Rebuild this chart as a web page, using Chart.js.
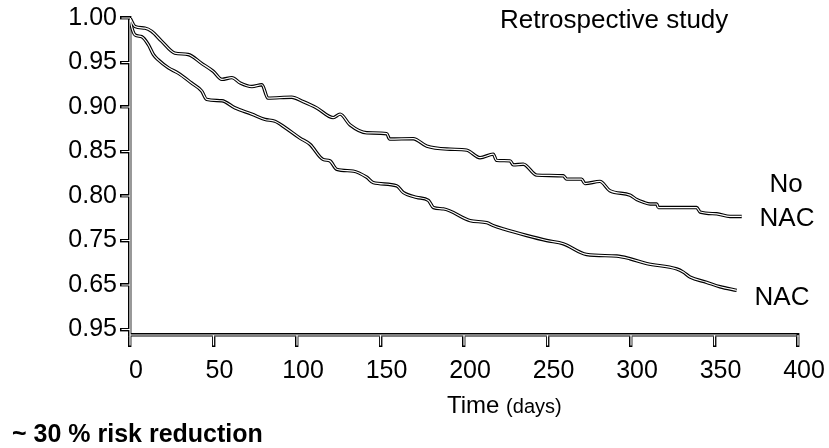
<!DOCTYPE html>
<html><head><meta charset="utf-8">
<script src="https://cdn.jsdelivr.net/npm/chart.js@4.4.1/dist/chart.umd.min.js"></script>
<style>html,body{margin:0;padding:0;background:#fff}#wrap{position:relative;width:829px;height:448px}</style>
</head><body><div id="wrap"><canvas id="c" width="829" height="448"></canvas></div>
<script>
const seriesNames = ["No NAC", "NAC"];
const noNacDays = [0, 3, 9, 13, 18.9, 26.8, 34.8, 42.9, 49.9, 55, 61, 66, 73, 79, 82.6, 96.8, 103.7, 111.8, 121.7, 125.8, 131.7, 141.8, 153.7, 155.5, 169.6, 177.7, 191.7, 201.6, 209.6, 217.5, 219.5, 227.6, 229.5, 235.5, 243.6, 259.5, 261.5, 270.4, 272.4, 281.4, 287.3, 299.4, 303.4, 307.4, 311.4, 315.4, 316.4, 339.3, 341.4, 351.3, 359.3, 366.3];
const noNacSurv = [1.0, 0.9905, 0.9886, 0.985, 0.974, 0.9606, 0.959, 0.949, 0.940, 0.931, 0.933, 0.927, 0.923, 0.925, 0.910, 0.911, 0.906, 0.899, 0.888, 0.892, 0.880, 0.871, 0.870, 0.864, 0.8644, 0.856, 0.8526, 0.8515, 0.843, 0.847, 0.840, 0.8395, 0.835, 0.8357, 0.8234, 0.8227, 0.819, 0.819, 0.814, 0.8164, 0.806, 0.801, 0.796, 0.793, 0.791, 0.791, 0.787, 0.787, 0.782, 0.780, 0.777, 0.777];
const nacDays = [0, 1, 3, 7, 11, 14, 16.9, 23, 28.9, 36.8, 42.9, 45.9, 55, 62.9, 72.9, 80.8, 86.8, 92.8, 101.8, 107.8, 115.7, 119.7, 123.8, 133.7, 141.8, 145.7, 159.7, 163.6, 171.6, 178.7, 181.7, 187.7, 203.6, 213.6, 217.4, 223.5, 237.5, 249.5, 259.5, 273.4, 291.4, 299.4, 309.5, 327.4, 331.3, 335.3, 345.3, 353.3, 363.3];
const nacSurv = [1.0, 0.99, 0.981, 0.979, 0.970, 0.959, 0.953, 0.944, 0.938, 0.927, 0.918, 0.9085, 0.907, 0.899, 0.892, 0.886, 0.884, 0.877, 0.865, 0.858, 0.841, 0.8395, 0.830, 0.828, 0.821, 0.815, 0.8115, 0.804, 0.7985, 0.795, 0.787, 0.7855, 0.7724, 0.770, 0.7668, 0.763, 0.7556, 0.750, 0.7463, 0.7343, 0.7325, 0.7295, 0.724, 0.718, 0.7145, 0.709, 0.703, 0.698, 0.694];
const xTickValues = [0, 50, 100, 150, 200, 250, 300, 350, 400];
const yTickValues = [1.00, 0.95, 0.90, 0.85, 0.80, 0.75, 0.70, 0.65];
const yTickLabels = ["1.00", "0.95", "0.90", "0.85", "0.80", "0.75", "0.65", "0.95"];
const titleText = "Retrospective study";
const xTitleMain = "Time";
const xTitleUnit = "(days)";
const footnote = "~ 30 % risk reduction";

const FONT = "'Liberation Sans', Arial, sans-serif";
const toPts = (xs, ys) => xs.map((x, i) => ({x: x, y: ys[i]}));
const lineBase = {pointRadius: 0, cubicInterpolationMode: 'monotone', fill: false, borderCapStyle: 'butt'};

const doubleAxes = {
  id: 'doubleAxes',
  beforeDatasetsDraw(chart) {
    const ctx = chart.ctx, xs = chart.scales.x, ys = chart.scales.y;
    const ax = ys.right, ay = xs.top;
    ctx.save();
    ctx.strokeStyle = '#fff';
    ctx.lineWidth = 1.2;
    ctx.beginPath();
    ctx.moveTo(ax, chart.chartArea.top + 1.5);
    ctx.lineTo(ax, ay + 10.5);
    ctx.moveTo(ax, ay);
    ctx.lineTo(xs.getPixelForValue(400) - 1.5, ay);
    ys.ticks.forEach(t => {
      const py = ys.getPixelForValue(t.value);
      ctx.moveTo(ax - 8.5, py); ctx.lineTo(ax, py);
    });
    xs.ticks.forEach(t => {
      const px = xs.getPixelForValue(t.value);
      if (t.value === 0) return;
      ctx.moveTo(px, ay); ctx.lineTo(px, ay + 10.5);
    });
    ctx.stroke();
    ctx.restore();
  }
};

const texts = {
  id: 'texts',
  afterDraw(chart) {
    const ctx = chart.ctx;
    ctx.save();
    ctx.fillStyle = '#000';
    ctx.textBaseline = 'alphabetic';
    ctx.font = "26px " + FONT;
    ctx.textAlign = 'left';
    ctx.fillText(titleText, 500, 28);
    ctx.textAlign = 'center';
    const nn = seriesNames[0].split(' ');
    ctx.fillText(nn[0], 786, 192);
    ctx.fillText(nn[1], 787, 226);
    ctx.fillText(seriesNames[1], 782, 305);
    // x axis title with two sizes
    ctx.textAlign = 'left';
    ctx.font = "24px " + FONT;
    const w1 = ctx.measureText(xTitleMain + " ").width;
    const sx = 447;
    ctx.fillText(xTitleMain + " ", sx, 413);
    ctx.font = "20px " + FONT;
    ctx.fillText(xTitleUnit, sx + w1, 413);
    ctx.font = "bold 25px " + FONT;
    ctx.fillText(footnote, 12, 442);
    ctx.restore();
  }
};

new Chart(document.getElementById('c'), {
  type: 'line',
  data: {
    datasets: [
      Object.assign({label: seriesNames[0], data: toPts(noNacDays, noNacSurv), borderColor: '#fff', borderWidth: 1.2, order: 0}, lineBase),
      Object.assign({label: seriesNames[1], data: toPts(nacDays, nacSurv), borderColor: '#fff', borderWidth: 1.2, order: 0}, lineBase),
      Object.assign({label: seriesNames[0] + ' outline', data: toPts(noNacDays, noNacSurv), borderColor: '#000', borderWidth: 3.4, order: 1}, lineBase),
      Object.assign({label: seriesNames[1] + ' outline', data: toPts(nacDays, nacSurv), borderColor: '#000', borderWidth: 3.4, order: 1}, lineBase)
    ]
  },
  options: {
    responsive: false,
    animation: false,
    devicePixelRatio: 1,
    layout: {padding: {left: 0, top: 16, right: 31, bottom: 0}},
    plugins: {legend: {display: false}, tooltip: {enabled: false}, title: {display: false}},
    scales: {
      x: {
        type: 'linear', min: 0, max: 400,
        afterBuildTicks: s => { s.ticks = xTickValues.map(v => ({value: v})); },
        afterFit: s => { s.height = 113; },
        ticks: {font: {family: FONT, size: 25}, color: '#000', padding: 9, labelOffset: 6, maxRotation: 0, autoSkip: false, callback: v => String(v)},
        grid: {drawOnChartArea: false, drawTicks: true, tickLength: 12, lineWidth: 3.4, color: '#000'},
        border: {display: true, color: '#000', width: 3.4}
      },
      y: {
        type: 'linear', min: 0.6438, max: 1.0,
        afterBuildTicks: s => { s.ticks = yTickValues.map(v => ({value: v})); },
        afterFit: s => { s.width = 130; },
        ticks: {font: {family: FONT, size: 25}, color: '#000', padding: 3, autoSkip: false, callback: (v, i) => yTickLabels[i]},
        grid: {drawOnChartArea: false, drawTicks: true, tickLength: 10, lineWidth: 3.4, color: '#000'},
        border: {display: true, color: '#000', width: 3.4}
      }
    }
  },
  plugins: [doubleAxes, texts]
});
</script></body></html>
